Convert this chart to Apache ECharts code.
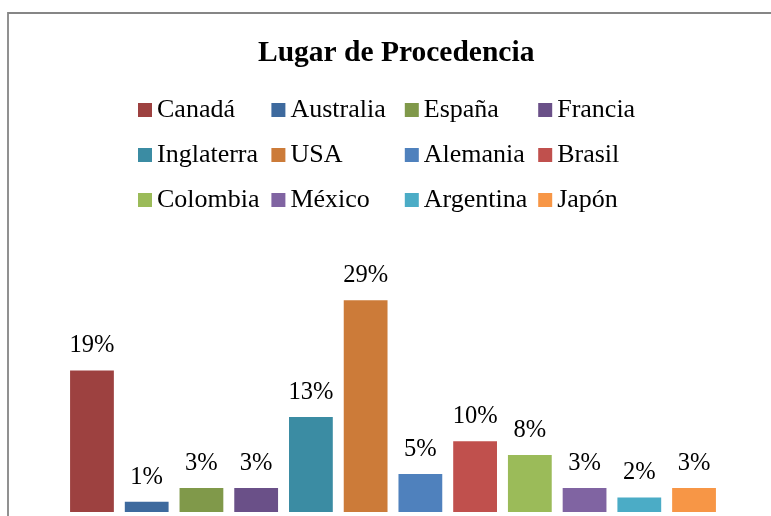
<!DOCTYPE html>
<html>
<head>
<meta charset="utf-8">
<script src="https://cdn.jsdelivr.net/npm/echarts@6/dist/echarts.min.js"></script>
<style>
  html, body { margin: 0; padding: 0; background: #fff; }
  #chart { width: 771px; height: 516px; }
</style>
</head>
<body>
<div id="chart"></div>
<script>
// Datos
const categorias = ['Canadá', 'Australia', 'España', 'Francia', 'Inglaterra', 'USA',
                    'Alemania', 'Brasil', 'Colombia', 'México', 'Argentina', 'Japón'];
const porcentajes = [19.4, 1.4, 3.3, 3.3, 13.0, 29.0, 5.2, 9.7, 7.8, 3.3, 2.0, 3.3];
const colores = ['#9d4140', '#3e6a9e', '#80994a', '#6a5088', '#3b8ca3', '#cc7b39',
                 '#4f81bd', '#c0504d', '#9bbb59', '#8064a2', '#4bacc6', '#f79646'];
// columnas de la leyenda (como en Excel: 4 columnas x 3 filas)
const columnasLeyenda = [
    ['Canadá', 'Inglaterra', 'Colombia'],
    ['Australia', 'USA', 'México'],
    ['España', 'Alemania', 'Argentina'],
    ['Francia', 'Brasil', 'Japón']
];

const fuente = '"Liberation Serif", "Times New Roman", serif';

document.addEventListener('DOMContentLoaded', function() {
    const chart = echarts.init(document.getElementById('chart'));

    // una serie por país, apiladas para que cada barra ocupe su categoría
    const series = categorias.map(function(nombre, i) {
        return {
            name: nombre,
            type: 'bar',
            stack: 'total',
            barCategoryGap: '20%',
            itemStyle: { color: colores[i] },
            label: {
                show: true,
                position: 'top',
                distance: 12,
                fontFamily: fuente,
                fontSize: 24.5,
                color: '#000',
                formatter: function(p) { return Math.round(p.value) + '%'; }
            },
            data: categorias.map(function(c, j) { return j === i ? porcentajes[i] : '-'; })
        };
    });

    const leyendas = columnasLeyenda.map(function(col, k) {
        return {
            orient: 'vertical',
            left: 138 + k * 133.4,
            top: 97,
            padding: 0,
            itemWidth: 14,
            itemHeight: 14,
            itemGap: 19,
            icon: 'rect',
            selectedMode: false,
            textStyle: { fontFamily: fuente, fontSize: 26, lineHeight: 26, color: '#000' },
            data: col
        };
    });

    chart.setOption({
        animation: false,
        title: {
            text: 'Lugar de Procedencia',
            left: 258,
            top: 38,
            padding: 0,
            textStyle: { fontFamily: fuente, fontSize: 29.5, fontWeight: 'bold', color: '#000' }
        },
        legend: leyendas,
        grid: { left: 64.6, right: 49.6, top: 220, bottom: 4 },
        xAxis: {
            type: 'category',
            data: categorias,
            show: false
        },
        yAxis: {
            type: 'value',
            min: 0,
            max: 40,
            show: false
        },
        graphic: [{
            type: 'rect',
            shape: { x: 8, y: 13, width: 900, height: 700 },
            style: { fill: null, stroke: '#868686', lineWidth: 1.8 },
            silent: true
        }],
        series: series
    });
});
</script>
</body>
</html>
